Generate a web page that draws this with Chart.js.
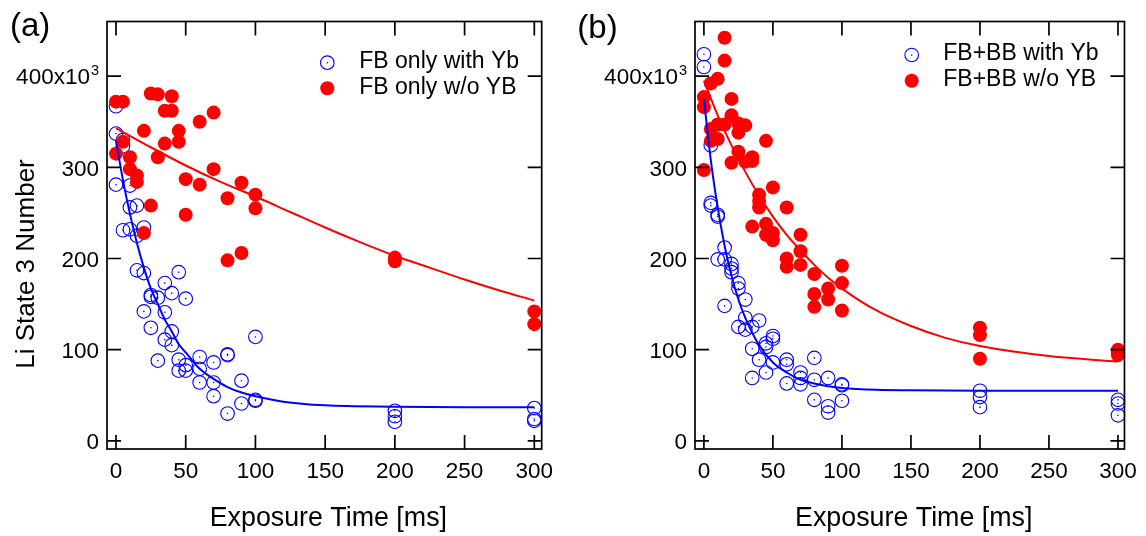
<!DOCTYPE html>
<html><head><meta charset="utf-8">
<script src="https://cdn.jsdelivr.net/npm/chart.js@4.4.1/dist/chart.umd.min.js"></script>
<style>
html,body{margin:0;padding:0;background:#fff;}
#wrap{position:relative;width:1146px;height:536px;overflow:hidden;}
canvas{position:absolute;top:0;}
#ca{left:0}
#cb{left:573px}
</style></head><body>
<div id="wrap"><canvas id="ca" width="573" height="536"></canvas><canvas id="cb" width="573" height="536"></canvas></div>
<script>
// ---------- data (Li state 3 number in units of 10^3, exposure time in ms) ----------
const xTicks = [0, 50, 100, 150, 200, 250, 300];
const yTicks = [0, 100, 200, 300, 400];
const yTopTickBase = '400x10';
const yTopTickExp = '3';

// Panel (a): FB only
const aWithYbTime  = [0,0,0,5,5,5,10,10,10,15,15,15,20,20,20,25,25,25,30,30,35,35,35,40,40,40,45,45,45,50,50,50,60,60,60,70,70,70,80,80,80,90,90,100,100,100,200,200,200,300,300,300];
const aWithYbCount = [367,337,281,330,323,231,280,256,232,258,225,187,234,184,142,160,158,124,157,88,173,141,111,162,120,105,185,89,77,156,83,77,92,79,64,86,64,49,95,94,30,66,41,114,45,44,33,27,21,36,24,22];
const aNoYbTime    = [0,0,5,5,10,10,15,15,20,20,25,25,30,30,35,35,40,40,45,45,50,50,60,60,70,70,80,80,90,90,100,100,200,200,300,300];
const aNoYbCount   = [372,315,372,328,311,298,291,284,340,228,381,258,380,311,362,326,378,362,340,328,287,248,350,281,360,298,266,198,283,206,270,255,201,197,142,128];
const aWithYbFitTime  = [0,5,10,15,20,25,30,35,40,45,50,60,70,80,90,100,120,150,200,250,300];
const aWithYbFitCount = [329,286,249,217,190,167,150,133,120,106,97,79,68,59,53,49,43,39,37.5,37,37];
const aNoYbFitTime    = [0,25,50,75,100,125,150,175,200,225,250,275,300];
const aNoYbFitCount   = [343,322,302,284,268,251,234,218,203,190,177,165,154];

// Panel (b): FB+BB
const bWithYbTime  = [0,0,5,5,5,10,10,10,15,15,15,20,20,20,25,25,25,30,30,30,35,35,35,40,40,45,45,45,50,50,50,60,60,60,70,70,70,80,80,80,90,90,90,100,100,100,200,200,200,300,300,300];
const bWithYbCount = [424,410,324,261,258,248,246,199,212,199,148,194,189,185,173,167,125,155,135,122,125,101,69,132,89,107,103,75,115,112,86,89,84,63,75,69,62,91,67,45,69,38,31,62,61,44,55,48,37,45,41,28];
const bNoYbTime    = [0,0,0,5,5,5,10,10,10,15,15,15,20,20,20,25,25,25,30,30,35,35,35,40,40,40,45,45,45,50,50,50,60,60,60,70,70,70,80,80,80,90,90,100,100,100,200,200,200,300,300,300];
const bNoYbCount   = [377,366,297,392,342,329,397,347,331,442,417,347,375,357,305,348,338,317,346,306,311,307,235,270,263,256,329,238,226,278,228,220,256,200,191,226,208,193,183,161,147,167,155,192,173,143,124,116,90,100,97,94];
const bWithYbFitTime  = [0,5,10,15,20,25,30,40,50,60,70,80,90,100,125,150,200,250,300];
const bWithYbFitCount = [375,308,256,214,181,155,135,105,86,75,67,63,60,58,56,55.5,55,55,55];
const bNoYbFitTime    = [0,10,20,30,40,50,60,70,80,90,100,125,150,175,200,250,300];
const bNoYbFitCount   = [395,357,324,295,269,246,226,209,193,179,167,143,126,113,104,93,87];

const legendA = ['FB only with Yb', 'FB only w/o YB'];
const legendB = ['FB+BB with Yb', 'FB+BB w/o YB'];
const panelLabels = ['(a)', '(b)'];
const xTitle = 'Exposure Time [ms]';
const yTitle = 'Li State 3 Number';

// ---------- rendering ----------
const FONT = "'Liberation Sans', Arial, sans-serif";
const BLUE = '#0000ff', RED = '#ff0000';
const TICK_FONT = 22.5;
Chart.defaults.font.family = FONT;
Chart.defaults.color = '#000';

const pairs = (xs, ys) => xs.map((x, i) => ({x, y: ys[i]}));

const dotPlugin = {
  id: 'centerDot',
  afterDatasetDraw(chart, args) {
    const ds = chart.data.datasets[args.index];
    if (!ds.centerDot) return;
    const ctx = chart.ctx;
    ctx.save();
    ctx.fillStyle = ds.borderColor;
    args.meta.data.forEach(p => { ctx.beginPath(); ctx.arc(p.x, p.y, 0.8, 0, Math.PI * 2); ctx.fill(); });
    ctx.restore();
  }
};

const framePlugin = {
  id: 'frameDeco',
  afterDraw(chart, args, o) {
    const ctx = chart.ctx;
    const {left, top, right, bottom} = chart.chartArea;
    const xs = chart.scales.x, ys = chart.scales.y;
    ctx.save();
    ctx.strokeStyle = '#000';
    ctx.lineWidth = 1.7;
    ctx.strokeRect(left, top, right - left, bottom - top);
    const L = 14;
    ctx.beginPath();
    xs.ticks.forEach(t => {
      const px = xs.getPixelForValue(t.value);
      ctx.moveTo(px, bottom); ctx.lineTo(px, bottom - L);
      ctx.moveTo(px, top); ctx.lineTo(px, top + L);
    });
    ys.ticks.forEach(t => {
      const py = ys.getPixelForValue(t.value);
      ctx.moveTo(left, py); ctx.lineTo(left + L, py);
      ctx.moveTo(right, py); ctx.lineTo(right - L, py);
    });
    ctx.stroke();

    ctx.fillStyle = '#000';
    // top y tick label with superscript exponent
    const py400 = ys.getPixelForValue(yTicks[yTicks.length - 1]);
    const edge = left - 8;
    ctx.font = '14.5px ' + FONT;
    const expW = ctx.measureText(yTopTickExp).width;
    ctx.textAlign = 'right';
    ctx.textBaseline = 'alphabetic';
    ctx.fillText(yTopTickExp, edge, py400 - 1.5);
    ctx.font = TICK_FONT + 'px ' + FONT;
    ctx.textBaseline = 'middle';
    ctx.fillText(yTopTickBase, edge - expW - 1, py400 + 2);

    // x title
    ctx.font = '26.8px ' + FONT;
    ctx.textAlign = 'center';
    ctx.textBaseline = 'middle';
    ctx.fillText(xTitle, (left + right) / 2 + 4, 518.5);

    // panel label
    ctx.font = '33px ' + FONT;
    ctx.textAlign = 'left';
    ctx.textBaseline = 'alphabetic';
    ctx.fillText(o.panel.text, o.panel.x, o.panel.y);

    // y title
    if (o.yTitle) {
      ctx.save();
      ctx.font = '26px ' + FONT;
      ctx.translate(o.yTitle.x, o.yTitle.y);
      ctx.rotate(-Math.PI / 2);
      ctx.textAlign = 'center';
      ctx.textBaseline = 'alphabetic';
      ctx.fillText(o.yTitle.text, 0, 0);
      ctx.restore();
    }

    // legend
    const lg = o.legend;
    ctx.font = '23px ' + FONT;
    ctx.textBaseline = 'middle';
    ctx.textAlign = 'left';
    lg.items.forEach((it, i) => {
      const my = lg.y + i * lg.dy;
      ctx.beginPath();
      ctx.arc(lg.x, my, it.r, 0, Math.PI * 2);
      if (it.open) {
        ctx.lineWidth = 1.1; ctx.strokeStyle = it.color; ctx.stroke();
        ctx.beginPath(); ctx.arc(lg.x, my, 0.8, 0, Math.PI * 2); ctx.fillStyle = it.color; ctx.fill();
      } else {
        ctx.fillStyle = it.color; ctx.fill();
      }
      ctx.fillStyle = '#000';
      ctx.fillText(it.text, lg.tx, my - 1);
    });
    ctx.restore();
  }
};

function makeChart(id, p) {
  const datasets = [
    {label: 'fitBlue', data: pairs(p.blueFitX, p.blueFitY), showLine: true, borderColor: BLUE, borderWidth: 2,
     pointRadius: 0, cubicInterpolationMode: 'monotone', order: 0, clip: false},
    {label: 'fitRed', data: pairs(p.redFitX, p.redFitY), showLine: true, borderColor: RED, borderWidth: 2,
     pointRadius: 0, cubicInterpolationMode: 'monotone', order: 0, clip: false},
    {label: p.legend[1], data: pairs(p.redX, p.redY), backgroundColor: RED, borderColor: RED, borderWidth: 0,
     pointRadius: 7, pointHoverRadius: 7, order: 1, clip: false},
    {label: p.legend[0], data: pairs(p.blueX, p.blueY), backgroundColor: 'rgba(0,0,0,0)', borderColor: BLUE, borderWidth: 1.1,
     pointRadius: 6.8, pointHoverRadius: 6.8, order: 2, centerDot: true, clip: false}
  ];
  return new Chart(document.getElementById(id), {
    type: 'scatter',
    data: {datasets},
    plugins: [dotPlugin, framePlugin],
    options: {
      responsive: false, animation: false, devicePixelRatio: 1,
      layout: {padding: {left: 0, right: p.padRight, top: 13, bottom: 0}},
      plugins: {
        legend: {display: false}, tooltip: {enabled: false},
        frameDeco: {panel: p.panel, yTitle: p.yTitle, legend: p.legendCfg}
      },
      scales: {
        x: {
          type: 'linear', position: 'bottom', min: -6.45, max: p.xMax,
          afterBuildTicks: s => { s.ticks = xTicks.map(v => ({value: v})); },
          afterFit: s => { s.height = 87; },
          grid: {display: false, drawTicks: false}, border: {display: false},
          ticks: {font: {size: TICK_FONT}, padding: 9, autoSkip: false, maxRotation: 0},
          title: {display: false}
        },
        y: {
          type: 'linear', position: 'left', min: -8.9, max: 459.9,
          afterBuildTicks: s => { s.ticks = yTicks.map(v => ({value: v})); },
          afterFit: s => { s.width = p.yWidth; },
          grid: {display: false, drawTicks: false}, border: {display: false},
          ticks: {font: {size: TICK_FONT}, padding: 8, labelOffset: 2, autoSkip: false,
                  callback: v => v === yTicks[yTicks.length - 1] ? '' : String(v)}
        }
      }
    }
  });
}

makeChart('ca', {
  blueX: aWithYbTime, blueY: aWithYbCount, redX: aNoYbTime, redY: aNoYbCount,
  blueFitX: aWithYbFitTime, blueFitY: aWithYbFitCount, redFitX: aNoYbFitTime, redFitY: aNoYbFitCount,
  legend: legendA, padRight: 31.3, yWidth: 107, xMax: 305.3,
  panel: {text: panelLabels[0], x: 10, y: 35.5},
  yTitle: {text: yTitle, x: 33.5, y: 264},
  legendCfg: {x: 327.3, y: 62.7, dy: 25.6, tx: 359.3,
    items: [{text: legendA[0], color: BLUE, open: true, r: 6.8}, {text: legendA[1], color: RED, open: false, r: 7}]}
});
makeChart('cb', {
  blueX: bWithYbTime, blueY: bWithYbCount, redX: bNoYbTime, redY: bNoYbCount,
  blueFitX: bWithYbFitTime, blueFitY: bWithYbFitCount, redFitX: bNoYbFitTime, redFitY: bNoYbFitCount,
  legend: legendB, padRight: 16.7, yWidth: 122, xMax: 304.7,
  panel: {text: panelLabels[1], x: 4.3, y: 38},
  yTitle: null,
  legendCfg: {x: 338.7, y: 55, dy: 25.7, tx: 370.3,
    items: [{text: legendB[0], color: BLUE, open: true, r: 6.8}, {text: legendB[1], color: RED, open: false, r: 7}]}
});
</script>
</body></html>
